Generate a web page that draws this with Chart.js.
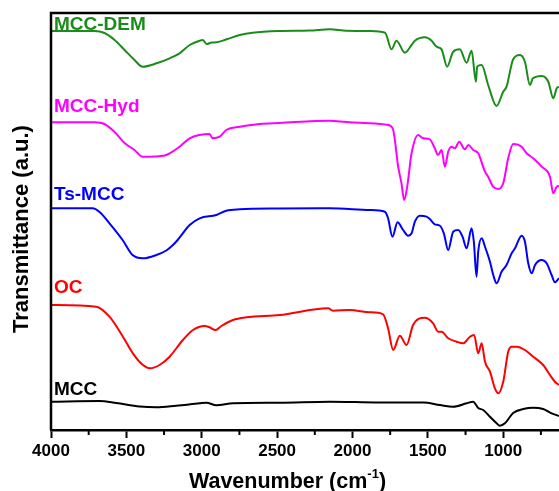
<!DOCTYPE html>
<html>
<head>
<meta charset="utf-8">
<script src="https://cdn.jsdelivr.net/npm/chart.js@4.4.1/dist/chart.umd.min.js"></script>
<style>
  body { margin: 0; background: #fff; overflow: hidden; }
</style>
</head>
<body>
<canvas id="myChart" width="559" height="491"></canvas>
<script>
// ---------- data (wavenumber cm-1 / transmittance a.u.) ----------
var demWn = [4000,3877,3711,3645,3578,3512,3446,3392,3299,3213,3147,3080,3014,2994,2967,2934,2901,2835,2748,2662,2483,2284,2151,2040,1884,1784,1741,1708,1653,1608,1586,1519,1475,1442,1409,1372,1332,1288,1243,1210,1181,1173,1143,1100,1044,1000,978,934,889,856,823,803,745,701,668,645,630];
var demT  = [399,399,399,397,390,380,370,363.3,366.7,371.7,376.7,385,389.3,390,386,387.5,387.7,390.7,395,397.3,399,399.5,400.7,399.3,399,397.3,380.7,389.3,377.3,385,389.3,392.7,389.3,383.3,380.7,363.3,378.3,380.7,367.3,379.3,348.3,363.3,365,345,324,338.3,343.3,370.7,375,368.3,345,351.7,354,348.3,331.7,341.7,343.3];

var hydWn = [4000,3711,3645,3578,3512,3446,3392,3313,3246,3213,3147,3080,3014,2948,2928,2881,2837,2748,2616,2483,2151,2040,1885,1764,1730,1697,1675,1657,1637,1608,1564,1531,1487,1454,1432,1409,1387,1365,1343,1321,1292,1254,1232,1199,1166,1121,1100,1067,1033,1000,967,934,878,845,801,745,690,668,645,630];
var hydT  = [307.7,307.7,306,298,287,280,273.3,273.5,274.5,276.7,283.3,291.7,295,296,291.7,293.3,300,303.3,306,307,309.3,308,306.7,305,300,263.3,246.7,230,243.3,276.7,295,291.7,290.7,281.7,275,280,263.3,278.3,283.3,281.7,288.3,280.7,285,280,276.7,258.3,253.3,243.3,241,246.7,271.7,286,283.3,276.7,271.7,263.3,253.3,236.7,243.3,244];

var tsWn = [4000,3724,3678,3612,3525,3459,3390,3301,3235,3191,3160,3080,3014,2903,2837,2748,2483,2151,1885,1785,1764,1735,1701,1664,1631,1608,1586,1553,1509,1487,1454,1420,1394,1365,1332,1299,1270,1243,1210,1195,1177,1166,1143,1121,1088,1066,1044,1011,978,944,922,878,856,834,811,789,745,712,679,657,630];
var tsT  = [221.7,221.7,218,206.7,190,175,171.7,175,179.5,185,190,205,211.7,215,219.3,220.7,221.5,221.7,220,218.3,211.7,193.3,207.7,200,194.3,196.7,208.3,214.3,213.3,211,205.7,204.3,196.7,180,198.3,200,193.3,181.7,201.7,188.3,153.3,178.3,191.7,183.3,168.3,155,146.7,158.3,165,176.7,181.7,194.3,188.3,166.7,156.7,165,170,166.7,155,147.7,151.7];

var ocWn = [4000,3700,3612,3523,3457,3390,3341,3280,3213,3125,3058,2981,2948,2908,2870,2793,2704,2483,2162,2129,2018,1885,1797,1764,1730,1686,1641,1598,1520,1465,1432,1409,1365,1309,1266,1221,1193,1166,1143,1121,1088,1055,1033,1000,967,944,911,856,801,735,690,657,630];
var ocT  = [125,123.3,113.3,93.3,76.7,65,61.7,65,73.3,90,100,104,102.7,100,104,110,112.7,115,121.7,119.3,120,117.7,115.7,101.7,80,94.3,85,105,112.3,106.7,98.3,98.3,91.7,88.3,86.7,93.3,95,76.7,86.7,68.3,58.3,41.7,36.7,48.3,78.3,83.3,83.3,80,73.3,65,55,48.3,45];

var mccWn = [4000,3678,3567,3412,3301,3169,3014,2969,2903,2793,2483,2151,1819,1531,1420,1332,1243,1199,1166,1133,1088,1044,1022,989,934,867,801,735,679,630];
var mccT  = [28.3,29,27,23.5,22.7,24.3,26.7,27.3,24.7,26.7,27.3,28.3,27.5,27.5,25,23.3,26.7,28.3,22,20,13.3,6.7,4.3,6.7,17,21,22.3,21,16.7,14];

var seriesNames = ['MCC-DEM','MCC-Hyd','Ts-MCC','OC','MCC'];
var seriesColors = ['#1a8c1a','#ff00ff','#0000ff','#ff0000','#000000'];
var minorTicks = [3750,3250,2750,2250,1750,1250,750];

var FONT = "'Liberation Sans', Arial, sans-serif";

function pts(wn, t) {
    var out = [];
    for (var i = 0; i < wn.length; i++) out.push({x: wn[i], y: t[i]});
    return out;
}

// frame, minor ticks, axis titles and curve labels
var decor = {
    id: 'decor',
    afterDraw: function(chart) {
        var ctx = chart.ctx;
        var a = chart.chartArea;
        var xs = chart.scales.x;
        ctx.save();
        ctx.strokeStyle = '#000';
        ctx.lineWidth = 2.5;
        ctx.beginPath();
        ctx.moveTo(a.left, a.bottom);
        ctx.lineTo(a.left, a.top);
        ctx.lineTo(a.right + 2, a.top);
        ctx.stroke();
        // minor ticks
        ctx.lineWidth = 2;
        minorTicks.forEach(function(v) {
            var px = xs.getPixelForValue(v);
            ctx.beginPath();
            ctx.moveTo(px, a.bottom);
            ctx.lineTo(px, a.bottom + 5);
            ctx.stroke();
        });
        // y title
        ctx.fillStyle = '#000';
        ctx.font = 'bold 22px ' + FONT;
        ctx.translate(28, 229);
        ctx.rotate(-Math.PI / 2);
        ctx.textAlign = 'center';
        ctx.textBaseline = 'alphabetic';
        ctx.fillText('Transmittance (a.u.)', 0, 0);
        ctx.restore();

        // x title with superscript
        ctx.save();
        ctx.fillStyle = '#000';
        ctx.textBaseline = 'alphabetic';
        ctx.textAlign = 'left';
        var big = 'bold 21.5px ' + FONT, small = 'bold 13px ' + FONT;
        ctx.font = big;
        var w1 = ctx.measureText('Wavenumber (cm').width;
        var w3 = ctx.measureText(')').width;
        ctx.font = small;
        var w2 = ctx.measureText('-1').width;
        var x0 = 287.5 - (w1 + w2 + w3) / 2;
        ctx.font = big;
        ctx.fillText('Wavenumber (cm', x0, 488);
        ctx.font = small;
        ctx.fillText('-1', x0 + w1, 478);
        ctx.font = big;
        ctx.fillText(')', x0 + w1 + w2, 488);

        // curve labels
        var baselines = [29.5, 112, 200, 293, 395];
        ctx.font = 'bold 19px ' + FONT;
        for (var i = 0; i < seriesNames.length; i++) {
            ctx.fillStyle = seriesColors[i];
            ctx.fillText(seriesNames[i], 54, baselines[i]);
        }
        ctx.restore();
    }
};

var datasets = [
    pts(demWn, demT), pts(hydWn, hydT), pts(tsWn, tsT), pts(ocWn, ocT), pts(mccWn, mccT)
].map(function(d, i) {
    return {
        label: seriesNames[i],
        data: d,
        borderColor: seriesColors[i],
        backgroundColor: seriesColors[i],
        borderWidth: 2,
        pointRadius: 0,
        fill: false,
        cubicInterpolationMode: 'monotone'
    };
});

var bieudo = new Chart(document.getElementById('myChart'), {
    type: 'line',
    data: { datasets: datasets },
    plugins: [decor],
    options: {
        responsive: false,
        animation: false,
        layout: { padding: { left: 51, top: 13, right: 0, bottom: 0 } },
        plugins: {
            legend: { display: false },
            tooltip: { enabled: false }
        },
        scales: {
            x: {
                type: 'linear',
                reverse: true,
                min: 630,
                max: 4000,
                afterFit: function(scale) { scale.height = 61; },
                border: { display: true, color: '#000', width: 2.5 },
                grid: { drawOnChartArea: false, drawTicks: true, tickLength: 8, tickWidth: 2,
                        tickColor: function(c) { return c.tick && c.tick.value % 500 === 0 ? '#000' : 'rgba(0,0,0,0)'; } },
                ticks: {
                    stepSize: 250,
                    includeBounds: false,
                    autoSkip: false,
                    maxRotation: 0,
                    minRotation: 0,
                    padding: 3,
                    color: '#000',
                    font: { family: FONT, size: 17, weight: 'bold' },
                    callback: function(v) { return v % 500 === 0 ? String(v) : ''; }
                }
            },
            y: {
                display: false,
                min: 0,
                max: 417
            }
        }
    }
});
</script>
</body>
</html>
